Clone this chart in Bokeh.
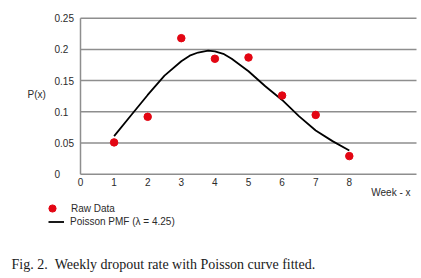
from bokeh.plotting import figure
from bokeh.models import Range1d, Label, Legend, LegendItem
from bokeh.embed import file_html
from bokeh.resources import INLINE

# ---- data ----
weeks = [1, 2, 3, 4, 5, 6, 7, 8]
raw_rate = [0.051, 0.092, 0.218, 0.185, 0.187, 0.126, 0.095, 0.029]

curve_x = [1, 1.5, 2, 2.5, 3, 3.25, 3.5, 3.8, 4, 4.25, 4.5, 5, 5.5, 6, 6.5, 7, 7.5, 8]
curve_y = [0.061, 0.094, 0.127, 0.158, 0.181, 0.190, 0.195, 0.198, 0.197, 0.193,
           0.185, 0.165, 0.141, 0.119, 0.093, 0.070, 0.053, 0.038]

x_ticks = [0, 1, 2, 3, 4, 5, 6, 7, 8]
y_ticks = [0, 0.05, 0.1, 0.15, 0.2, 0.25]
y_tick_labels = ["0", "0.05", "0.1", "0.15", "0.2", "0.25"]
x_max = 10

y_label = "P(x)"
x_label = "Week - x"
legend_labels = ["Raw Data", "Poisson PMF (\u03bb = 4.25)"]
caption = "Fig. 2.\u00a0\u00a0Weekly dropout rate with Poisson curve fitted."

# ---- layout (pixels inside the figure) ----
W, H = 421, 278
ORIGIN_X, ORIGIN_Y = 80.0, 173.7      # pixel position of (0, 0), y from top
PX_PER_X, PX_PER_Y = 33.6, 624.0

FONT = "Liberation Sans"
GRID = "#8e8e8e"
RED = "#e30613"
TXT = "#2b2b2b"

x_range = Range1d(-ORIGIN_X / PX_PER_X, (W - ORIGIN_X) / PX_PER_X)
y_range = Range1d(-(H - ORIGIN_Y) / PX_PER_Y, ORIGIN_Y / PX_PER_Y)

p = figure(width=W, height=H, x_range=x_range, y_range=y_range,
           output_backend="svg", toolbar_location=None,
           x_axis_location=None, y_axis_location=None, min_border=0)
p.outline_line_color = None
p.grid.visible = False
p.background_fill_color = "white"
p.border_fill_color = "white"

# gridlines
gy = y_ticks[1:]
p.segment(x0=[0] * len(gy), x1=[x_max] * len(gy), y0=gy, y1=gy,
          line_color=GRID, line_width=1.5)
# axis lines
p.segment(x0=[0, 0], y0=[0, 0], x1=[x_max, 0], y1=[0, y_ticks[-1]],
          line_color=GRID, line_width=1.5)

r_line = p.line(curve_x, curve_y, line_color="black", line_width=1.8)
r_dot = p.scatter(weeks, raw_rate, size=7.5, color=RED)

def lab(x, y, text, dx=0, dy=0, align="left", font=FONT, size="10px", color=TXT):
    p.add_layout(Label(x=x, y=y, x_offset=dx, y_offset=dy, text=text, text_align=align,
                       text_baseline="middle", text_font=font, text_font_size=size,
                       text_color=color))

for t, s in zip(y_ticks, y_tick_labels):
    lab(0, t, s, dx=-26)
for t in x_ticks:
    lab(t, 0, str(t), dy=-8, align="center")

lab(0, 0.1275, y_label, dx=-53)
lab(8, 0, x_label, dx=22, dy=-18)
lab(0, 0, caption, dx=-69, dy=-90, font="Liberation Serif", size="14px", color="#1a1a1a")

common = dict(padding=0, margin=0, spacing=0, border_line_color=None,
              background_fill_alpha=0, label_text_font=FONT, label_text_font_size="10px",
              label_text_color=TXT)
leg1 = Legend(items=[LegendItem(label=legend_labels[0], renderers=[r_dot])],
              location=(43, 61), glyph_width=18, glyph_height=18, label_height=18,
              label_standoff=10, **common)
leg2 = Legend(items=[LegendItem(label=legend_labels[1], renderers=[r_line])],
              location=(48, 50), glyph_width=16, glyph_height=13, label_height=13,
              label_standoff=6, **common)
p.add_layout(leg1)
p.add_layout(leg2)

open("out.html", "w").write(file_html(p, INLINE))
